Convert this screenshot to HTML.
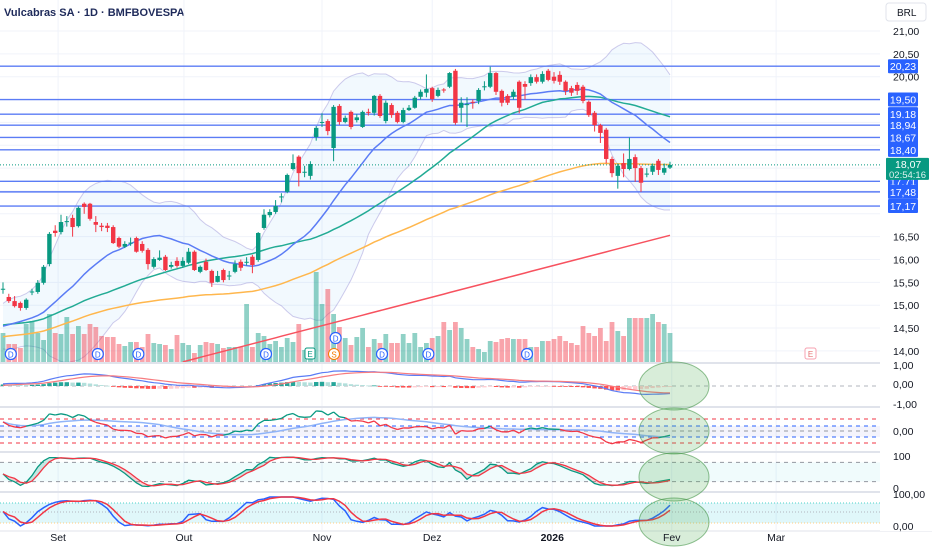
<!DOCTYPE html>
<html><head><meta charset="utf-8">
<style>
html,body{margin:0;padding:0;background:#fff;}
svg{display:block;font-family:"Liberation Sans",sans-serif;}
</style></head>
<body>
<svg id="chart" width="932" height="550" viewBox="0 0 932 550" xmlns="http://www.w3.org/2000/svg">
<defs>
<clipPath id="clipMacd"><rect x="0" y="364" width="880" height="42"/></clipPath>
<clipPath id="clipOsc"><rect x="0" y="408" width="880" height="43"/></clipPath>
<clipPath id="clipSto"><rect x="0" y="453" width="880" height="38"/></clipPath>
<clipPath id="clipRsi"><rect x="0" y="493" width="880" height="37"/></clipPath>
</defs>
<rect x="0" y="0" width="932" height="550" fill="#ffffff"/>
<text x="4" y="16" font-size="11" font-weight="bold" fill="#1e2a5a">Vulcabras SA · 1D · BMFBOVESPA</text>
<rect x="886" y="3" width="40" height="18" rx="3" fill="#fff" stroke="#e0e3eb"/>
<text x="897" y="16" font-size="10" fill="#131722">BRL</text>
</svg>
<script>
const opens=[15.35,15.18,15.09,15.05,14.94,15.28,15.29,15.49,15.90,16.63,16.60,16.83,16.91,16.73,17.22,17.22,16.82,16.74,16.74,16.71,16.47,16.28,16.35,16.47,16.34,16.21,15.84,15.99,16.06,15.84,15.97,15.86,15.93,16.17,15.73,15.95,15.75,15.51,15.77,15.63,15.73,15.95,15.93,16.06,15.99,16.69,16.97,17.04,17.36,17.48,17.98,18.25,17.90,17.83,18.68,19.00,19.03,18.44,19.36,19.01,19.23,19.05,18.90,19.23,19.21,19.58,19.03,19.38,19.21,19.01,19.27,19.32,19.56,19.65,19.75,19.58,19.72,19.78,20.13,19.32,19.38,19.45,19.47,19.77,19.78,20.08,19.69,19.58,19.56,19.89,19.84,19.86,19.99,19.89,20.13,20.00,20.04,19.89,19.75,19.82,19.78,19.45,19.21,18.94,18.84,18.20,17.83,18.11,17.98,18.24,18.00,17.86,17.92,18.16,17.90,18.01];
const closes=[15.36,15.09,14.98,14.94,15.12,15.30,15.49,15.84,16.56,16.58,16.82,16.84,16.71,17.13,17.15,16.89,16.76,16.71,16.69,16.36,16.28,16.34,16.37,16.17,16.19,15.90,16.01,16.04,15.77,15.88,15.86,15.97,16.17,15.77,15.84,15.77,15.49,15.64,15.55,15.65,15.90,15.82,15.95,15.88,16.58,16.98,17.04,17.17,17.38,17.85,18.11,17.89,17.92,18.09,18.88,19.01,18.81,19.34,19.01,19.10,18.90,19.11,19.23,19.21,19.58,19.14,19.43,19.16,19.01,19.27,19.32,19.54,19.67,19.73,19.51,19.71,19.70,20.08,18.99,19.43,19.40,19.43,19.71,19.79,20.08,19.67,19.43,19.43,19.67,19.32,19.78,19.99,19.89,20.06,19.93,19.91,19.89,19.69,19.65,19.69,19.47,19.16,18.94,18.77,18.20,17.89,18.05,17.98,18.20,18.00,17.68,17.88,18.05,17.96,18.00,18.07];
const highs=[15.50,15.25,15.20,15.08,15.15,15.36,15.55,15.88,16.60,16.75,16.98,16.95,16.98,17.16,17.25,17.24,16.95,16.80,16.80,16.75,16.50,16.40,16.48,16.50,16.40,16.25,16.05,16.20,16.10,15.95,16.05,16.05,16.25,16.20,15.87,16.02,15.78,15.75,15.80,15.75,15.98,16.00,16.05,16.10,16.60,17.10,17.10,17.30,17.45,17.88,18.30,18.28,18.05,18.15,18.92,19.20,19.07,19.38,19.40,19.15,19.26,19.18,19.26,19.30,19.60,19.62,19.48,19.42,19.25,19.32,19.38,19.58,19.72,20.05,19.78,19.76,19.75,20.10,20.17,19.55,19.55,19.50,19.75,19.90,20.22,20.10,19.72,19.62,19.72,19.92,19.90,20.05,20.05,20.12,20.17,20.10,20.12,19.92,19.80,19.88,19.82,19.48,19.25,18.97,18.88,18.25,18.10,18.32,18.67,18.30,18.05,18.00,18.10,18.20,18.10,18.14];
const lows=[15.25,15.05,14.95,14.88,14.90,15.22,15.25,15.45,15.85,16.50,16.55,16.72,16.50,16.70,17.00,16.85,16.60,16.62,16.60,16.34,16.25,16.25,16.30,16.15,16.15,15.78,15.80,15.97,15.75,15.80,15.82,15.82,15.90,15.75,15.70,15.75,15.40,15.50,15.50,15.55,15.70,15.75,15.87,15.70,15.95,16.65,16.92,17.00,17.25,17.45,17.95,17.60,17.80,17.75,18.60,18.90,18.72,18.15,18.95,18.98,18.85,19.00,18.88,19.15,19.15,19.10,18.98,19.10,18.98,18.98,19.25,19.30,19.50,19.55,19.45,19.55,19.65,19.75,18.95,19.00,18.90,19.30,19.40,19.70,19.75,19.60,19.35,19.38,19.50,19.20,19.50,19.80,19.85,19.85,19.90,19.85,19.82,19.60,19.58,19.60,19.42,19.12,18.80,18.55,18.10,17.80,17.55,17.80,17.95,17.70,17.48,17.80,17.85,17.85,17.85,17.98];
const volumes=[29,18,18,14,38,41,29,22,48,29,28,45,28,36,28,38,35,26,25,25,18,16,20,20,15,28,19,18,17,13,27,19,17,9,17,20,19,18,14,15,15,15,58,15,29,26,18,21,15,24,20,38,12,12,90,58,73,48,35,24,17,25,34,15,23,19,28,19,19,28,19,29,15,19,24,26,40,32,40,34,23,15,13,10,21,20,23,24,23,23,23,15,15,21,21,23,26,21,19,17,36,29,26,34,21,40,31,26,44,44,44,44,48,40,38,29];
const preCloses=[14.50,14.45,14.40,14.50,14.60,14.55,14.45,14.40,14.35,14.45,14.50,14.60,14.70,14.65,14.75,14.85,14.90,15.00,15.15,14.30,14.35,14.40,14.30,14.25,14.35,14.45,14.50,14.40,14.30,14.35,14.45,14.55,14.60,14.50,14.45,14.55,14.65,14.70,14.80,14.90];
const levels=[20.23,19.50,19.18,18.94,18.67,18.40,17.71,17.48,17.17];
const priceTicks=[21.0,20.5,20.0,16.5,16.0,15.5,15.0,14.5,14.0];
const gridTicks=[21.0,20.5,20.0,19.5,19.0,18.5,18.0,17.5,17.0,16.5,16.0,15.5,15.0,14.5,14.0];
const monthLabels=["Set","Out","Nov","Dez","2026","Fev","Mar"];
const monthBars=[9.5,31.2,55,74,94.7,115.3,133.3];
const redMaBars=[31,115];
const redMaVals=[13.76,16.53];
const orangeMaSeed=14.29;
const lastPrice=18.07;
const lastTime="02:54:16";

const svg=document.getElementById('chart');
const NS='http://www.w3.org/2000/svg';
const N=closes.length;
const P=preCloses.length;
const PANE_R=880;
function xOf(i){return 3+i*5.8;}
function yP(p){return 31+(21-p)*45.7;}
function mk(tag,attrs,parent){const e=document.createElementNS(NS,tag);for(const k in attrs)e.setAttribute(k,attrs[k]);(parent||svg).appendChild(e);return e;}
function fmt(v){return v.toFixed(2).replace('.',',');}
function pathFrom(vals,yf,start){let d='';for(let i=(start||0);i<vals.length;i++){if(vals[i]==null)continue;d+=(d?'L':'M')+xOf(i).toFixed(1)+','+yf(vals[i]).toFixed(1);}return d;}
function ema(src,n,seed){const a=2/(n+1);const out=[];let v=seed==null?src[0]:seed;for(let i=0;i<src.length;i++){v=v+a*(src[i]-v);out.push(v);}return out;}
function sma(src,n){const out=[];for(let i=0;i<src.length;i++){const s=Math.max(0,i-n+1);let t=0;for(let j=s;j<=i;j++)t+=src[j];out.push(t/(i-s+1));}return out;}
const full=preCloses.concat(closes);

// grid
const grid=mk('g',{});


gridTicks.forEach(p=>{const l=mk('line',{x1:0,x2:PANE_R,y1:yP(p),y2:yP(p),stroke:'#f0f3fa','stroke-width':1},grid);

});
monthBars.forEach(b=>{const l=mk('line',{x1:xOf(b),x2:xOf(b),y1:0,y2:530,stroke:'#f0f3fa','stroke-width':1},grid);

});

// bollinger
const midF=sma(full,20);
const mid=midF.slice(P);
const up=[],lo=[];
for(let k=P;k<full.length;k++){const s=Math.max(0,k-19);let t=0,c=0;for(let j=s;j<=k;j++){t+=(full[j]-midF[k])**2;c++;}const sd=Math.sqrt(t/c);up.push(midF[k]+2*sd);lo.push(midF[k]-2*sd);}
let bd='';for(let i=0;i<N;i++)bd+=(i?'L':'M')+xOf(i)+','+yP(up[i]);for(let i=N-1;i>=0;i--)bd+='L'+xOf(i)+','+yP(lo[i]);bd+='Z';
const bFill=mk('path',{d:bd,fill:'rgba(33,150,243,0.06)'});


const bUp=mk('path',{d:pathFrom(up,yP),fill:'none',stroke:'rgba(120,110,200,0.35)','stroke-width':1});


const bLo=mk('path',{d:pathFrom(lo,yP),fill:'none',stroke:'rgba(120,110,200,0.35)','stroke-width':1});



// volume
const volG=mk('g',{});


for(let i=0;i<N;i++){const up1=closes[i]>=opens[i];const r=mk('rect',{x:xOf(i)-2.4,y:362-volumes[i],width:4.8,height:volumes[i],fill:up1?'rgba(8,153,129,0.45)':'rgba(242,54,69,0.45)'},volG);

}

// level lines
levels.forEach(p=>{const l=mk('line',{x1:0,x2:PANE_R,y1:yP(p),y2:yP(p),stroke:'#5b7cf5','stroke-width':1.4});

});

// MAs
const greenMa=sma(full,40).slice(P);
const orangeMa=ema(closes,100,orangeMaSeed);
const redMa=[];for(let i=0;i<N;i++){if(i<redMaBars[0]){redMa.push(null);continue;}const t=(i-redMaBars[0])/(redMaBars[1]-redMaBars[0]);redMa.push(redMaVals[0]+t*(redMaVals[1]-redMaVals[0]));}
const rl=mk('path',{d:pathFrom(redMa,yP),fill:'none',stroke:'#f7525f','stroke-width':1.5});


const ol=mk('path',{d:pathFrom(orangeMa,yP),fill:'none',stroke:'#ffb74d','stroke-width':1.5});


const gl=mk('path',{d:pathFrom(greenMa,yP),fill:'none',stroke:'#22ab94','stroke-width':1.5});


const bl=mk('path',{d:pathFrom(mid,yP),fill:'none',stroke:'#5b7cf5','stroke-width':1.5});



// last price dotted
const lp=mk('line',{x1:0,x2:PANE_R,y1:yP(lastPrice),y2:yP(lastPrice),stroke:'#089981','stroke-width':1,'stroke-dasharray':'1,2'});



// candles
const cG=mk('g',{});


for(let i=0;i<N;i++){const u=closes[i]>=opens[i];const col=u?'#089981':'#f23645';const x=xOf(i);
const w=mk('line',{x1:x,x2:x,y1:yP(highs[i]),y2:yP(lows[i]),stroke:col,'stroke-width':1},cG);


const t=yP(Math.max(opens[i],closes[i]));const b=yP(Math.min(opens[i],closes[i]));
const r=mk('rect',{x:x-2.2,y:t,width:4.4,height:Math.max(1,b-t),fill:col},cG);

}

// event markers
const evBars=[1,16,23,45,57,65,73,90];const evY=[354,354,354,354,338,354,354,354];
evBars.forEach((b,k)=>{const g=mk('g',{});


mk('circle',{cx:xOf(b)+2,cy:evY[k],r:5.5,fill:'#fff',stroke:'#2962ff','stroke-width':1.2},g);
mk('text',{x:xOf(b)+2,y:evY[k]+3.5,'font-size':8,'text-anchor':'middle',fill:'#2962ff'},g).textContent='D';});
const eg=mk('g',{});


mk('rect',{x:305,y:348,width:10,height:11,rx:2,fill:'#fff',stroke:'#089981'},eg);
mk('text',{x:310,y:357,'font-size':8,'text-anchor':'middle',fill:'#089981'},eg).textContent='E';
const sg=mk('g',{});


mk('circle',{cx:334,cy:354,r:5.5,fill:'#fff',stroke:'#f57c00'},sg);
mk('text',{x:334,y:357.5,'font-size':8,'text-anchor':'middle',fill:'#f57c00'},sg).textContent='S';
const fg=mk('g',{});


mk('rect',{x:805,y:348,width:11,height:11,rx:2,fill:'#fff',stroke:'#f7a1b0'},fg);
mk('text',{x:810.5,y:357,'font-size':8,'text-anchor':'middle',fill:'#e57373'},fg).textContent='E';

// pane separators
[363,407,452,492,531].forEach(y=>{const l=mk('line',{x1:0,x2:932,y1:y,y2:y,stroke:'#e0e3eb','stroke-width':y==531?1:2});

});

// MACD pane
const macdG=mk('g',{'clip-path':'url(#clipMacd)'});


const e12=ema(full,12,full[0]),e26=ema(full,26,full[0]);
const macdF=e12.map((v,i)=>v-e26[i]);const sigF=ema(macdF,9,0);
const macd=macdF.slice(P),sig=sigF.slice(P);
function yM(v){return 386-v*19;}
const z1=mk('line',{x1:0,x2:PANE_R,y1:386,y2:386,stroke:'#b2b5be','stroke-dasharray':'4,4'},macdG);


for(let i=0;i<N;i++){const h=macd[i]-sig[i];const pv=i?macd[i-1]-sig[i-1]:0;const col=h>=0?(h>=pv?'#26a69a':'#b2dfdb'):(h<=pv?'#ff5252':'#ffcdd2');
const y0=yM(0),y1=yM(h);const r=mk('rect',{x:xOf(i)-2.2,y:Math.min(y0,y1),width:4.4,height:Math.max(0.8,Math.abs(y1-y0)),fill:col},macdG);

}
const ml=mk('path',{d:pathFrom(macd,yM),fill:'none',stroke:'#5b7cf5','stroke-width':1.2},macdG);


const sl=mk('path',{d:pathFrom(sig,yM),fill:'none',stroke:'#f77c80','stroke-width':1.2},macdG);



// Oscillator pane 2
const oscG=mk('g',{'clip-path':'url(#clipOsc)'});


const osc=closes.map((c,i)=>(c/mid[i]-1)*100);const oscS=sma(osc,20);
function yO(v){return 431-v*1.6;}
const lav=mk('rect',{x:0,y:426,width:PANE_R,height:11,fill:'rgba(120,110,220,0.08)'},oscG);


[[419,'#f23645'],[426,'#2962ff'],[431,'#9598a1'],[437,'#2962ff'],[443,'#f23645']].forEach(a=>{const l=mk('line',{x1:0,x2:PANE_R,y1:a[0],y2:a[0],stroke:a[1],'stroke-dasharray':'4,4','stroke-width':1},oscG);

});
const os=mk('path',{d:pathFrom(oscS,yO),fill:'none',stroke:'#90b4f8','stroke-width':1.5},oscG);


for(let i=1;i<N;i++){const col=osc[i]>=oscS[i]?'#089981':'#f23645';const s=mk('line',{x1:xOf(i-1),y1:yO(osc[i-1]),x2:xOf(i),y2:yO(osc[i]),stroke:col,'stroke-width':1.3},oscG);

}

// Stochastic pane 3
const stoG=mk('g',{'clip-path':'url(#clipSto)'});


function yS(v){return 488-v*0.32;}
const rawK=[];for(let i=0;i<N;i++){const s=Math.max(0,i-13);let hh=-1e9,ll=1e9;for(let j=s;j<=i;j++){hh=Math.max(hh,highs[j]);ll=Math.min(ll,lows[j]);}rawK.push(hh>ll?(closes[i]-ll)/(hh-ll)*100:50);}
const kS=sma(rawK,3),dS=sma(kS,3);
const sf=mk('rect',{x:0,y:yS(80),width:PANE_R,height:yS(20)-yS(80),fill:'rgba(0,188,212,0.06)'},stoG);


[80,20].forEach(v=>{const l=mk('line',{x1:0,x2:PANE_R,y1:yS(v),y2:yS(v),stroke:'#9598a1','stroke-dasharray':'4,4'},stoG);

});
for(let i=1;i<N;i++){const col=kS[i]>=dS[i]?'rgba(8,153,129,0.2)':'rgba(242,54,69,0.2)';const p=mk('path',{d:'M'+xOf(i-1)+','+yS(kS[i-1])+'L'+xOf(i)+','+yS(kS[i])+'L'+xOf(i)+','+yS(dS[i])+'L'+xOf(i-1)+','+yS(dS[i-1])+'Z',fill:col},stoG);

}
const kl=mk('path',{d:pathFrom(kS,yS),fill:'none',stroke:'#089981','stroke-width':1.3},stoG);


const dl=mk('path',{d:pathFrom(dS,yS),fill:'none',stroke:'#f23645','stroke-width':1.3},stoG);



// Stoch RSI pane 4
const rsiG=mk('g',{'clip-path':'url(#clipRsi)'});


function yR(v){return 526-v*0.29;}
const rsi=[];let ag=0,al=0;for(let i=0;i<N;i++){const ch=i?closes[i]-closes[i-1]:0;const g=Math.max(ch,0),l=Math.max(-ch,0);ag=(ag*13+g)/14;al=(al*13+l)/14;rsi.push(al==0?100:100-100/(1+ag/al));}
const srs=[];for(let i=0;i<N;i++){const s=Math.max(0,i-13);let hh=-1e9,ll=1e9;for(let j=s;j<=i;j++){hh=Math.max(hh,rsi[j]);ll=Math.min(ll,rsi[j]);}srs.push(hh>ll?(rsi[i]-ll)/(hh-ll)*100:50);}
const rk=sma(srs,3),rd=sma(rk,3);
const rf=mk('rect',{x:0,y:503,width:PANE_R,height:20,fill:'rgba(0,188,212,0.12)'},rsiG);


[[503,'#4dd0c8'],[512,'#b2b5be'],[523,'#ffcc80']].forEach(a=>{const l=mk('line',{x1:0,x2:PANE_R,y1:a[0],y2:a[0],stroke:a[1],'stroke-dasharray':'1,2'},rsiG);

});
const rkl=mk('path',{d:pathFrom(rk,yR),fill:'none',stroke:'#2962ff','stroke-width':1.5},rsiG);


const rdl=mk('path',{d:pathFrom(rd,yR),fill:'none',stroke:'#f23645','stroke-width':1.5},rsiG);



// highlight ellipses
[[386,24],[431,23],[477,24],[522,24]].forEach(a=>{const e=mk('ellipse',{cx:674,cy:a[0],rx:35,ry:a[1],fill:'rgba(76,175,80,0.22)',stroke:'rgba(56,142,60,0.55)','stroke-width':1});

});

// right axis
const ax=mk('rect',{x:PANE_R,y:24,width:52,height:507,fill:'#fff'});


priceTicks.forEach(p=>{const t=mk('text',{x:893,y:yP(p)+4,'font-size':10.5,fill:'#131722'});


t.textContent=fmt(p);});
[['1,00',369],['0,00',388],['-1,00',408],['0,00',435],['100',460],['0',492],['100,00',498],['0,00',530]].forEach(a=>{const t=mk('text',{x:893,y:a[1],'font-size':10.5,fill:'#131722'});


t.textContent=a[0];});
levels.forEach(p=>{const y=yP(p);const r=mk('rect',{x:888,y:y-7,width:30,height:14,fill:'#2962ff',rx:1});


const t=mk('text',{x:903,y:y+4,'font-size':10.5,fill:'#fff','text-anchor':'middle'});


t.textContent=fmt(p);});
const ly=yP(lastPrice);
const lb=mk('rect',{x:886,y:ly-7,width:43,height:22,fill:'#089981',rx:1});


const lt=mk('text',{x:895,y:ly+3,'font-size':10.5,fill:'#fff'});


lt.textContent=fmt(lastPrice);
const lt2=mk('text',{x:889,y:ly+13,'font-size':9.5,fill:'#e0f2f1'});


lt2.textContent=lastTime;

// x axis
monthLabels.forEach((m,k)=>{const t=mk('text',{x:xOf(monthBars[k]),y:541,'font-size':10.5,'text-anchor':'middle',fill:'#131722','font-weight':m=='2026'?'bold':'normal'});


t.textContent=m;});
</script>
</body></html>
